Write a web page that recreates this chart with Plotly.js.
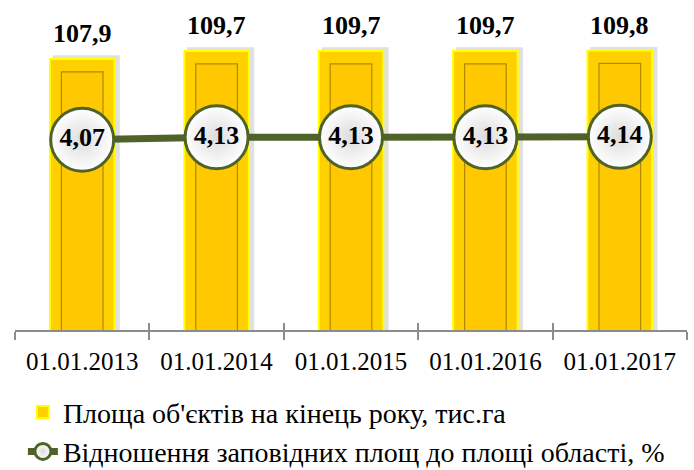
<!DOCTYPE html>
<html>
<head>
<meta charset="utf-8">
<script src="https://cdn.plot.ly/plotly-3.0.1.min.js"></script>
<style>html,body{margin:0;padding:0;background:#fff;}#chart{width:694px;height:470px;}</style>
</head>
<body>
<div id="chart"></div>
<script>
const categories = ['01.01.2013', '01.01.2014', '01.01.2015', '01.01.2016', '01.01.2017'];
const area = [107.9, 109.7, 109.7, 109.7, 109.8];
const areaLabels = ['107,9', '109,7', '109,7', '109,7', '109,8'];
const ratio = [4.07, 4.13, 4.13, 4.13, 4.14];
const ratioLabels = ['4,07', '4,13', '4,13', '4,13', '4,14'];
const areaName = "Площа об'єктів на кінець року, тис.га";
const ratioName = 'Відношення заповідних площ до площі області, %';

const FONT = 'Liberation Serif';
const GREEN = '#4F6228';
const Y_RANGE = [46.9, 118.9];
const BEVEL = 2.9; // data units of the bevel on top of the bars

const shadow = {
  type: 'bar', x: categories, y: area.map(v => v + 0.8),
  width: 0.5, offset: -0.22,
  marker: {color: 'rgba(0,0,0,0.12)', line: {width: 0}},
  showlegend: false, hoverinfo: 'skip', xaxis: 'x', yaxis: 'y'
};
const outer = {
  type: 'bar', x: categories, y: area, name: areaName,
  width: 0.48,
  marker: {color: '#FFD000', line: {color: '#FFFF00', width: 2}},
  legendgroup: 'a', xaxis: 'x', yaxis: 'y'
};
const inner = {
  type: 'bar', x: categories, y: area.map(v => v - BEVEL),
  width: 0.31,
  marker: {color: '#FFC800', line: {color: 'rgba(110,80,0,0.55)', width: 1.2}},
  showlegend: false, hoverinfo: 'skip', xaxis: 'x', yaxis: 'y'
};
const line = {
  type: 'scatter', mode: 'lines+markers+text', x: categories, y: ratio, name: ratioName,
  text: ratioLabels.map(t => '<b>' + t + '</b>'), textposition: 'middle center',
  textfont: {family: FONT, size: 26, color: '#000'},
  line: {color: GREEN, width: 7},
  marker: {size: 63, color: '#ffffff', line: {color: GREEN, width: 3},
           gradient: {type: 'radial', color: '#dcdcdc'}},
  legendgroup: 'b', xaxis: 'x2', yaxis: 'y2'
};

const annotations = categories.map((c, i) => ({
  x: c, y: area[i], xref: 'x', yref: 'y', text: '<b>' + areaLabels[i] + '</b>',
  showarrow: false, yanchor: 'middle', yshift: 25,
  font: {family: FONT, size: 26, color: '#000'}
}));

const layout = {
  width: 694, height: 470,
  margin: {l: 15, r: 7, t: 10, b: 140, autoexpand: false},
  paper_bgcolor: '#fff', plot_bgcolor: '#fff',
  barmode: 'overlay',
  font: {family: FONT, size: 25, color: '#000'},
  xaxis: {type: 'category', categoryorder: 'array', categoryarray: categories, range: [-0.5, 4.5],
          showline: true, linecolor: '#8c8c8c', linewidth: 2,
          ticks: 'outside', tickson: 'boundaries', ticklen: 8, tickwidth: 2, tickcolor: '#8c8c8c',
          tickfont: {family: FONT, size: 25, color: '#000'}, ticklabelstandoff: 8, tickangle: 0,
          automargin: false, showgrid: false, zeroline: false, fixedrange: true},
  xaxis2: {type: 'category', categoryorder: 'array', categoryarray: categories, range: [-0.5, 4.5],
           overlaying: 'x', anchor: 'y', side: 'bottom',
           showline: false, ticks: 'inside', tickson: 'boundaries', ticklen: 7, tickwidth: 2, tickcolor: '#8c8c8c',
           showticklabels: false, automargin: false, showgrid: false, zeroline: false},
  yaxis: {range: Y_RANGE, visible: false, showgrid: false, zeroline: false},
  yaxis2: {range: [-0.49, 7.18], overlaying: 'y', anchor: 'x', side: 'right', visible: false,
           showgrid: false, zeroline: false},
  showlegend: true,
  legend: {xref: 'container', yref: 'container', x: 0.033, y: 0.176, xanchor: 'left', yanchor: 'top',
           orientation: 'v', bgcolor: 'rgba(0,0,0,0)', tracegroupgap: 2, traceorder: 'normal',
           font: {family: FONT, size: 28, color: '#000'}},
  annotations: annotations
};

Plotly.newPlot('chart', [shadow, outer, inner, line], layout, {displayModeBar: false, staticPlot: true});
</script>
</body>
</html>
